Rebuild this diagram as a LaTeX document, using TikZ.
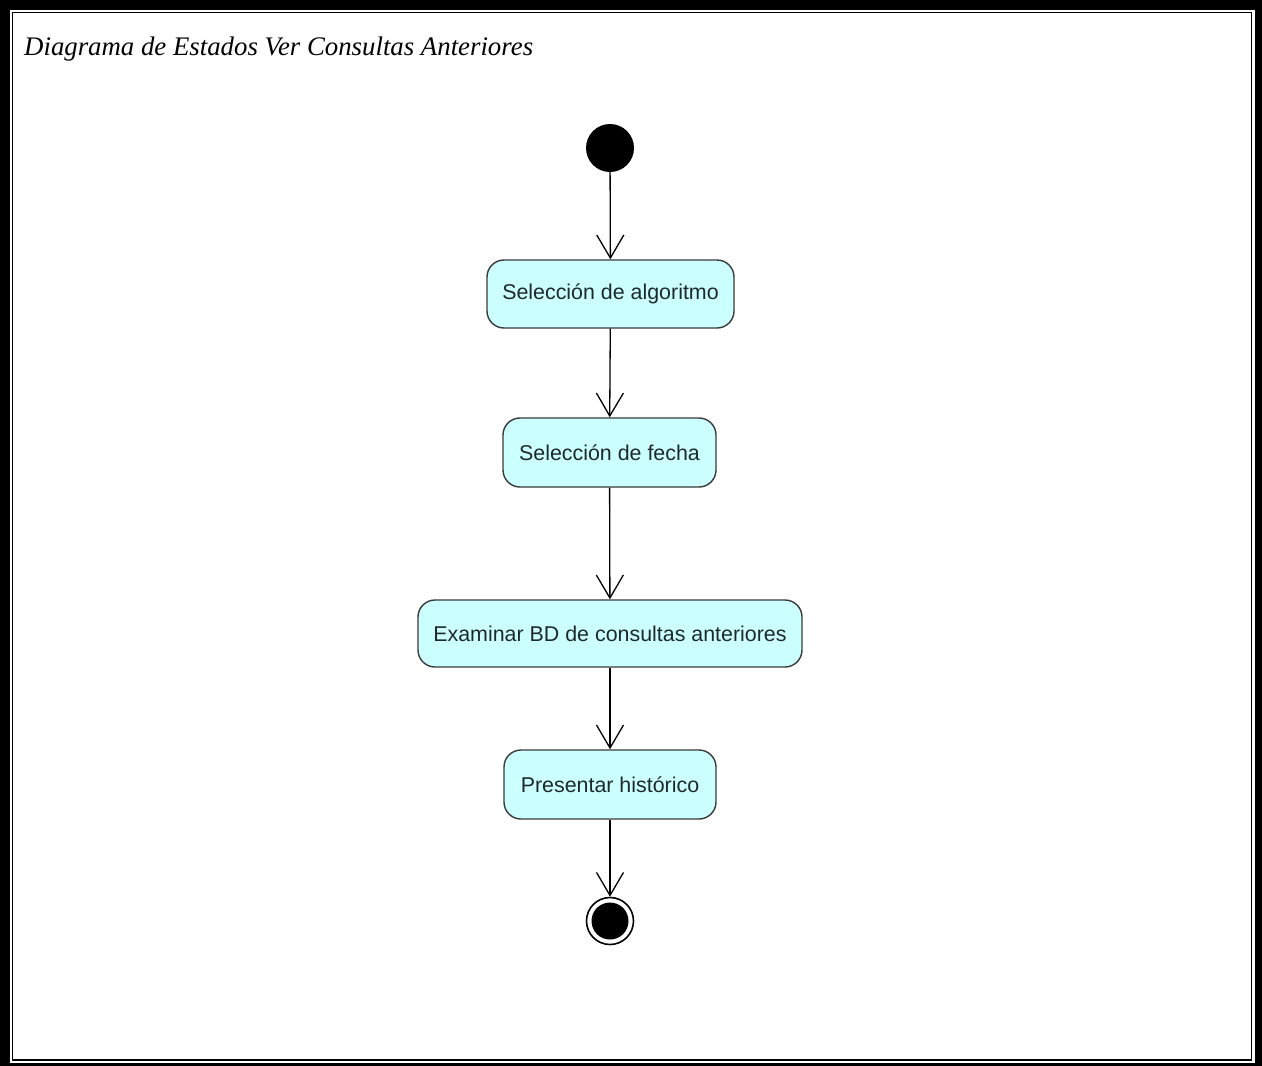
\documentclass[tikz,border=0pt]{standalone}
\usepackage{fontspec}
\setmainfont{Liberation Serif}
\newfontfamily\boxfont{Liberation Sans}
\usetikzlibrary{arrows.meta}
\definecolor{statefill}{HTML}{CCFFFF}
\definecolor{stateline}{HTML}{3A3A3A}
\definecolor{statetext}{HTML}{1E2A2A}
\begin{document}
\begin{tikzpicture}[x=1pt,y=-1pt,
  statebox/.style={draw=stateline,line width=1.4pt,fill=statefill,rounded corners=17pt,
    inner sep=0pt,font=\boxfont\fontsize{21.4}{25}\selectfont,text=statetext},
  flow/.style={line width=1.3pt,-{Straight Barb[length=23pt,width=27pt,line width=1.3pt]}},
  frameouter/.style={fill=black},
]
\useasboundingbox (0,0) rectangle (1262,1066);
% double page frame: heavy outer band, thin inner rule
\fill[frameouter] (0,0) rectangle (1262,1066);
\fill[white] (10,10) rectangle (1255,1063);
\draw[line width=1.6pt] (12.5,12.5) rectangle (1251.5,1060);
% title
\node[anchor=base west,font=\itshape\fontsize{26.8}{32}\selectfont,inner sep=0pt] (title) at (24,55) {Diagrama de Estados Ver Consultas Anteriores};
% states
\node[circle,fill=black,minimum size=48pt,inner sep=0pt] (start) at (610,148) {};
\node[statebox,minimum width=247pt,minimum height=68pt] (s1) at (610.5,294) {Selección de algoritmo};
\node[statebox,minimum width=213pt,minimum height=69pt] (s2) at (609.5,452.5) {Selección de fecha};
\node[statebox,minimum width=384pt,minimum height=67pt] (s3) at (610,633.5) {Examinar BD de consultas anteriores};
\node[statebox,minimum width=212pt,minimum height=69pt] (s4) at (610,784.5) {Presentar histórico};
\node[circle,draw=black,line width=1.6pt,minimum size=47pt,inner sep=0pt] (end) at (610,921) {};
\fill (end.center) circle (18.5pt);
% transitions
\draw[flow] (start) -- (s1);
\draw[flow] (s1) -- (s2);
\draw[flow] (s2) -- (s3);
\draw[flow] (s3) -- (s4);
\draw[flow] (s4) -- (end);
\end{tikzpicture}
\end{document}
